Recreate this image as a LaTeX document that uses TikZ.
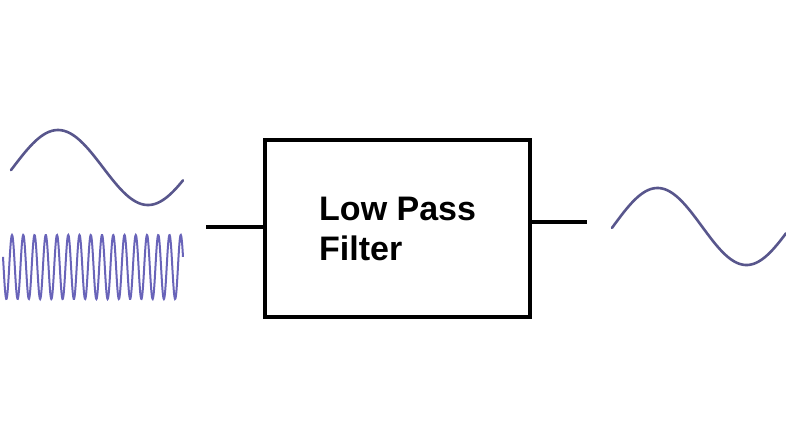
\documentclass[tikz,border=0pt]{standalone}
\usepackage{fontspec}
\setmainfont{Liberation Sans}
\definecolor{sinecol}{RGB}{88,86,140}
\definecolor{hfcol}{RGB}{105,100,185}
\tikzset{
  wire/.style={line width=4pt},
  filterbox/.style={draw, line width=4pt, minimum width=265pt, minimum height=177pt, inner sep=0pt},
  lbl/.style={font=\fontsize{34}{40}\selectfont\bfseries, anchor=base west, inner sep=0pt},
  sine/.style={color=sinecol, line width=2.6pt, line cap=round},
  hf/.style={color=hfcol, line width=2pt}
}
\begin{document}
\begin{tikzpicture}[x=1pt,y=-1pt]
\useasboundingbox (0,0) rectangle (786,445);
\node[filterbox] (box) at (397.5,228.5) {};
\node[lbl] (t1) at (319,220) {Low Pass};
\node[lbl] (t2) at (319,260) {Filter};
\coordinate (inL) at (206,227);
\coordinate (outR) at (587,222);
\draw[wire] (inL) -- (inL -| box.west);
\draw[wire] (outR -| box.east) -- (outR);
% input low-frequency sine
\draw[sine] plot[domain=11:183, samples=120, smooth] (\x, {167.5 - 37.5*sin(2*(\x-13))});
% input high-frequency component
\draw[hf] plot[domain=3:183, samples=500, smooth] (\x, {267 - 32*sin(32*(\x-9.2))});
% output sine
\draw[sine] plot[domain=612:786, samples=120, smooth] (\x, {226.5 - 38.5*sin(2.0225*(\x-613))});
\end{tikzpicture}
\end{document}
